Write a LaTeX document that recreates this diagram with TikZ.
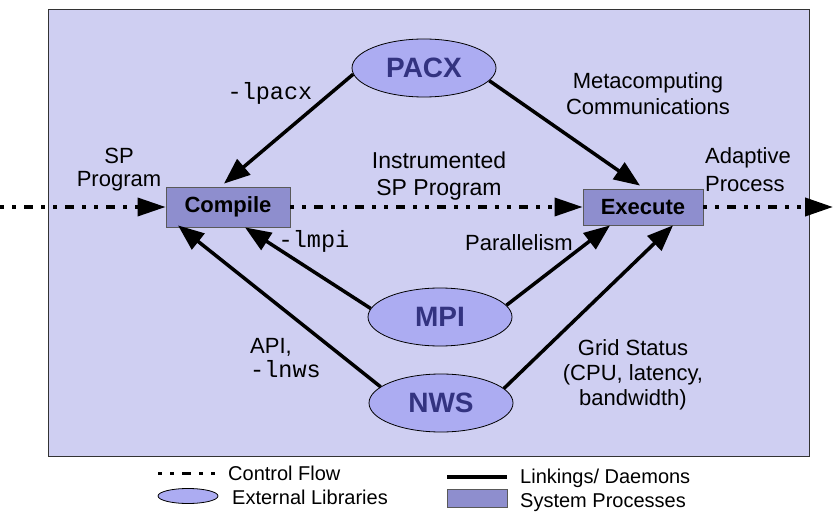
\documentclass[tikz,border=0pt]{standalone}
\usepackage{fontspec}
\setmainfont{Liberation Sans}
\setmonofont{Liberation Mono}
\usetikzlibrary{arrows.meta,shapes.geometric}
\definecolor{bgc}{RGB}{207,207,242}
\definecolor{libfill}{RGB}{172,172,242}
\definecolor{libtext}{RGB}{51,51,128}
\definecolor{procfill}{RGB}{142,142,206}
\begin{document}
\begin{tikzpicture}[x=1pt,y=-1pt,
  lib/.style={ellipse,draw=black,line width=0.8pt,fill=libfill,minimum width=144pt,minimum height=58pt,inner sep=0pt,text=libtext,font=\fontsize{28}{30}\selectfont\bfseries},
  proc/.style={rectangle,draw=black!65,line width=0.8pt,fill=procfill,inner sep=0pt,font=\fontsize{22}{24}\selectfont\bfseries},
  link/.style={line width=3.5pt,-{Triangle[length=26pt,width=20pt]}},
  flowline/.style={line width=3.5pt,dash pattern=on 4pt off 8pt on 4pt off 8pt on 9pt off 8pt},
  flow/.style={flowline,-{Triangle[length=28pt,width=18pt]}},
  lbl/.style={inner sep=0pt,font=\fontsize{22}{27}\selectfont},
  code/.style={inner sep=0pt,font=\fontsize{23.5}{27}\selectfont\ttfamily},
  leg/.style={inner sep=0pt,font=\fontsize{20}{24}\selectfont,anchor=base west}]
\useasboundingbox (0,0) rectangle (833,513);
\draw[fill=bgc,draw=black!80,line width=0.8pt] (48,9) rectangle (809,456);

% external libraries
\node[lib] (pacx) at (424,68) {PACX};
\node[lib] (mpi) at (440,317) {MPI};
\node[lib] (nws) at (441,403) {NWS};

% system processes
\node[proc,minimum width=124pt,minimum height=40pt] (compile) at (228,207) {Compile};
\node[proc,minimum width=120pt,minimum height=36pt] (execute) at (643,207) {Execute};

% control flow
\coordinate (in) at (0,207);
\coordinate (out) at (833,207);
\draw[flow] (in) -- (compile.west);
\draw[flow] (compile.east) -- (execute.west);
\draw[flow,line width=4pt] (execute.east) -- (out);

% linkings / daemons
\draw[link] (pacx.185) -- ([xshift=-4pt,yshift=3pt]compile.north);
\draw[link] (pacx.349) -- ([xshift=-3pt,yshift=3pt]execute.north);
\draw[link] (mpi.173) -- ([xshift=17pt]compile.south);
\draw[link] (mpi.10) -- ([xshift=-33pt]execute.south);
\draw[link] (nws.165) -- ([xshift=-50pt,yshift=2pt]compile.south);
\draw[link] (nws.13) -- ([xshift=30pt]execute.south);

% labels
\node[lbl,align=center,font=\fontsize{22}{23}\selectfont] (splbl) at (119,170) {SP\\Program};
\node[lbl,align=center,font=\fontsize{23}{27}\selectfont] (instr) at (439,176) {Instrumented\\SP Program};
\node[lbl,align=left,anchor=west,font=\fontsize{22}{28}\selectfont] (adapt) at (705,170) {Adaptive\\Process};
\node[lbl,align=center,font=\fontsize{22}{26}\selectfont] (meta) at (648,94) {Metacomputing\\Communications};
\node[code,anchor=base] (lpacx) at (270,100) {-lpacx};
\node[code,anchor=base] (lmpi) at (314,248) {-lmpi};
\node[lbl,anchor=base] (par) at (519,251) {Parallelism};
\node[lbl,anchor=base west] (api) at (250,353) {API,};
\node[code,anchor=base west] (lnws) at (250,377) {-lnws};
\node[lbl,align=center,font=\fontsize{22}{25}\selectfont] (grid) at (633,375) {Grid Status\\(CPU, latency,\\bandwidth)};

% legend
\coordinate (cfa) at (158,473);
\coordinate (cfb) at (222,473);
\draw[flowline,line width=3pt] (cfa) -- (cfb);
\node[leg] (cftext) at (228,480) {Control Flow};
\node[ellipse,draw=black,line width=0.8pt,fill=libfill,minimum width=60pt,minimum height=15pt,inner sep=0pt] (legell) at (188,496) {};
\node[leg] (eltext) at (232,504) {External Libraries};
\coordinate (lka) at (447,477);
\coordinate (lkb) at (507,477);
\draw[line width=4pt] (lka) -- (lkb);
\node[leg] (lktext) at (520,483) {Linkings/ Daemons};
\node[rectangle,draw=black!65,line width=0.8pt,fill=procfill,minimum width=60pt,minimum height=18pt,inner sep=0pt] (legbox) at (477,498) {};
\node[leg] (sptext) at (520,507) {System Processes};
\end{tikzpicture}
\end{document}
